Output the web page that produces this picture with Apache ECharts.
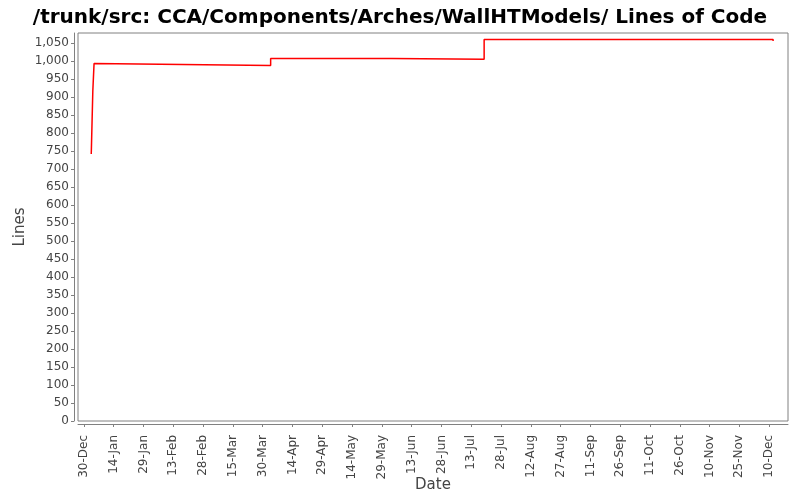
<!DOCTYPE html>
<html>
<head>
<meta charset="utf-8">
<script src="https://cdn.jsdelivr.net/npm/echarts@6/dist/echarts.min.js"></script>
<style>html,body{margin:0;padding:0;background:#fff}#c{width:800px;height:500px}</style>
</head>
<body>
<div id="c"></div>
<script>
// ---- data ----
var changeDates = ['2009-01-02T16:00:00Z','2009-01-02T18:00:00Z','2009-01-03T11:00:00Z','2009-01-04T02:00:00Z','2009-01-04T14:00:00Z','2009-04-03T00:00:00Z','2009-06-03T00:00:00Z','2009-07-19T12:00:00Z','2009-12-12T00:00:00Z'];
var linesOfCode = [742, 757, 916, 993, 988, 1007, 1005, 1060, 1056];
var xTickStart = '2008-12-30T00:00:00Z';
var xTickLabels = ['30-Dec','14-Jan','29-Jan','13-Feb','28-Feb','15-Mar','30-Mar','14-Apr','29-Apr','14-May','29-May','13-Jun','28-Jun','13-Jul','28-Jul','12-Aug','27-Aug','11-Sep','26-Sep','11-Oct','26-Oct','10-Nov','25-Nov','10-Dec'];
var yTicks = [0,50,100,150,200,250,300,350,400,450,500,550,600,650,700,750,800,850,900,950,1000,1050];
var xMin = '2008-12-27T00:00:00Z';
var xMax = '2009-12-19T12:00:00Z';
var yMax = 1078;

var DAY = 86400000;
var t0 = Date.parse(xTickStart);
function dayOf(s) { return (Date.parse(s) - t0) / DAY; }
var xTickValues = xTickLabels.map(function (_, i) { return i * 15; });
// step ("value held until next change") path built from the data
var seriesData = [];
changeDates.forEach(function (d, i) {
  var x = dayOf(d);
  if (i > 0) seriesData.push([x, linesOfCode[i - 1]]);
  seriesData.push([x, linesOfCode[i]]);
});

var chart = echarts.init(document.getElementById('c'));
var font = 'DejaVu Sans';
chart.setOption({
  backgroundColor: '#ffffff',
  animation: false,
  title: {
    text: '/trunk/src: CCA/Components/Arches/WallHTModels/ Lines of Code',
    left: 'center', top: 3,
    textStyle: { fontFamily: font, fontWeight: 'bold', fontSize: 20, color: '#000' }
  },
  grid: {
    left: 78, right: 12, top: 33, bottom: 79,
    outerBoundsMode: 'none', containLabel: false,
    show: true, borderColor: '#808080', borderWidth: 1, backgroundColor: '#ffffff'
  },
  xAxis: {
    type: 'value',
    min: dayOf(xMin), max: dayOf(xMax),
    offset: 3,
    name: 'Date', nameLocation: 'middle', nameGap: 54, nameMoveOverlap: false,
    nameTextStyle: { fontFamily: font, fontSize: 15, color: '#444' },
    axisLine: { show: true, onZero: false, lineStyle: { color: '#808080', width: 1 } },
    axisTick: { show: true, length: 3, lineStyle: { color: '#808080' }, customValues: xTickValues },
    axisLabel: {
      rotate: 90, margin: 11, fontFamily: font, fontSize: 12, color: '#444',
      customValues: xTickValues,
      formatter: function (v) { return xTickLabels[Math.round(v / 15)] || ''; }
    },
    splitLine: { show: false }
  },
  yAxis: {
    type: 'value',
    min: 0, max: yMax,
    offset: 4,
    name: 'Lines', nameLocation: 'middle', nameGap: 46, nameMoveOverlap: false,
    nameTextStyle: { fontFamily: font, fontSize: 15, color: '#444' },
    axisLine: { show: true, onZero: false, lineStyle: { color: '#808080', width: 1 } },
    axisTick: { show: true, length: 3, lineStyle: { color: '#808080' }, customValues: yTicks },
    axisLabel: {
      margin: 5, fontFamily: font, fontSize: 12, color: '#444',
      padding: [6, 0, 0, 0],
      customValues: yTicks,
      formatter: function (v) { return v.toLocaleString('en-US'); }
    },
    splitLine: { show: false }
  },
  series: [{
    type: 'line',
    data: seriesData,
    showSymbol: false,
    symbol: 'none',
    smooth: false,
    lineStyle: { color: '#ff0000', width: 1.5 },
    itemStyle: { color: '#ff0000' }
  }]
});
</script>
</body>
</html>
